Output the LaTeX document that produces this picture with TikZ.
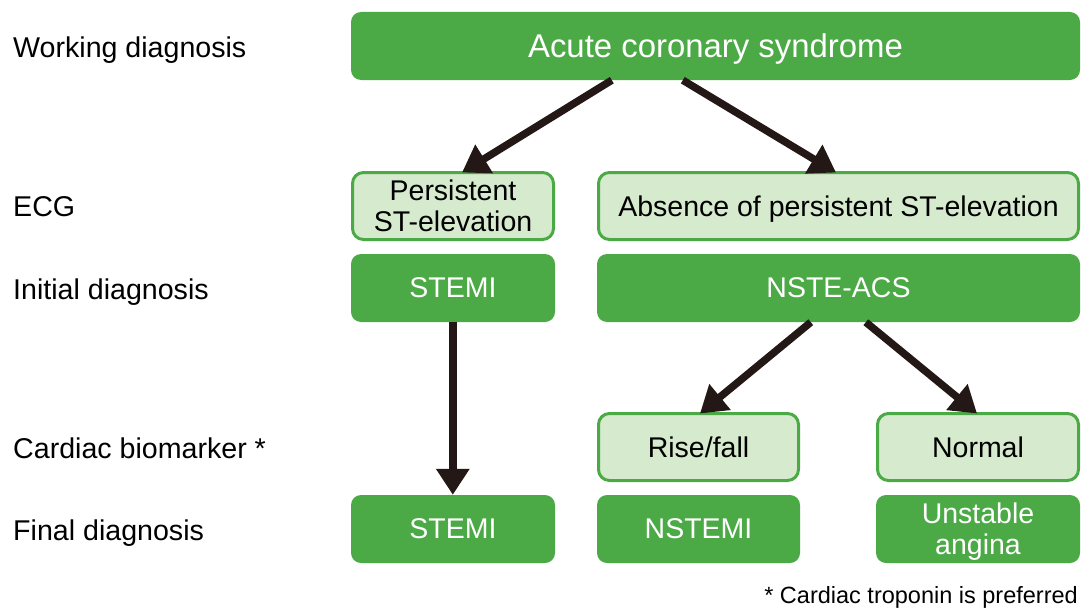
\documentclass[tikz,border=0pt]{standalone}
\usepackage{fontspec}
\setmainfont{Liberation Sans}
\usetikzlibrary{arrows.meta}
\definecolor{dkgreen}{RGB}{76,170,70}
\definecolor{ltgreen}{RGB}{214,234,206}
\definecolor{arrowcol}{RGB}{35,24,21}
\tikzset{
  darkbox/.style={rectangle, rounded corners=10pt, fill=dkgreen, draw=none, text=white,
    inner sep=0pt, align=center, text depth=0pt, font=\fontsize{28.5}{31}\selectfont},
  lightbox/.style={rectangle, rounded corners=11pt, fill=ltgreen, draw=dkgreen, line width=3pt,
    text=black, inner sep=0pt, align=center, text depth=0pt, font=\fontsize{28.5}{31}\selectfont},
  rowlabel/.style={anchor=west, inner sep=0pt, text depth=0pt, font=\fontsize{28.6}{31}\selectfont},
  arr/.style={draw=arrowcol, line width=7.5pt, -{Triangle[length=26pt,width=32pt]}}
}
\begin{document}
\begin{tikzpicture}[x=1pt,y=-1pt]
\useasboundingbox (0,0) rectangle (1083,610);
% row labels
\node[rowlabel] (l1) at (13,47) {Working diagnosis};
\node[rowlabel] (l2) at (13,207) {ECG};
\node[rowlabel] (l3) at (13,289) {Initial diagnosis};
\node[rowlabel] (l4) at (13,448) {Cardiac biomarker *};
\node[rowlabel] (l5) at (13,530) {Final diagnosis};
% boxes
\node[darkbox, minimum width=729pt, minimum height=68pt, font=\fontsize{32.9}{36}\selectfont] (acs) at (715.5,46) {Acute coronary syndrome};
\node[lightbox, minimum width=201pt, minimum height=67pt] (pst) at (453,206) {Persistent\\ST-elevation};
\node[lightbox, minimum width=480pt, minimum height=67pt] (abs) at (838.5,206) {Absence of persistent ST-elevation};
\node[darkbox, minimum width=204pt, minimum height=68pt] (stemi1) at (453,288) {STEMI};
\node[darkbox, minimum width=483pt, minimum height=68pt] (nste) at (838.5,288) {NSTE-ACS};
\node[lightbox, minimum width=200pt, minimum height=67pt] (rise) at (698.5,447) {Rise/fall};
\node[lightbox, minimum width=201pt, minimum height=67pt] (normal) at (978,447) {Normal};
\node[darkbox, minimum width=204pt, minimum height=68pt] (stemi2) at (453,529) {STEMI};
\node[darkbox, minimum width=203pt, minimum height=68pt] (nstemi) at (698.5,529) {NSTEMI};
\node[darkbox, minimum width=204pt, minimum height=68pt] (ua) at (978,529) {Unstable\\angina};
% footnote
\node[anchor=east, inner sep=0pt, font=\fontsize{23.5}{26}\selectfont] (fn) at (1078,597) {* Cardiac troponin is preferred};
% arrows
\draw[arr] ([xshift=261pt]acs.south west) -- ([xshift=111pt,yshift=-1.5pt]pst.north west);
\draw[arr] ([xshift=332pt]acs.south west) -- ([xshift=239pt,yshift=-1.5pt]abs.north west);
\draw[arr] ([xshift=102pt]stemi1.south west) -- ([xshift=102pt]stemi2.north west);
\draw[arr] ([xshift=214pt]nste.south west) -- ([xshift=103pt,yshift=-1.5pt]rise.north west);
\draw[arr] ([xshift=269pt]nste.south west) -- ([xshift=101pt,yshift=-1.5pt]normal.north west);
\end{tikzpicture}
\end{document}
